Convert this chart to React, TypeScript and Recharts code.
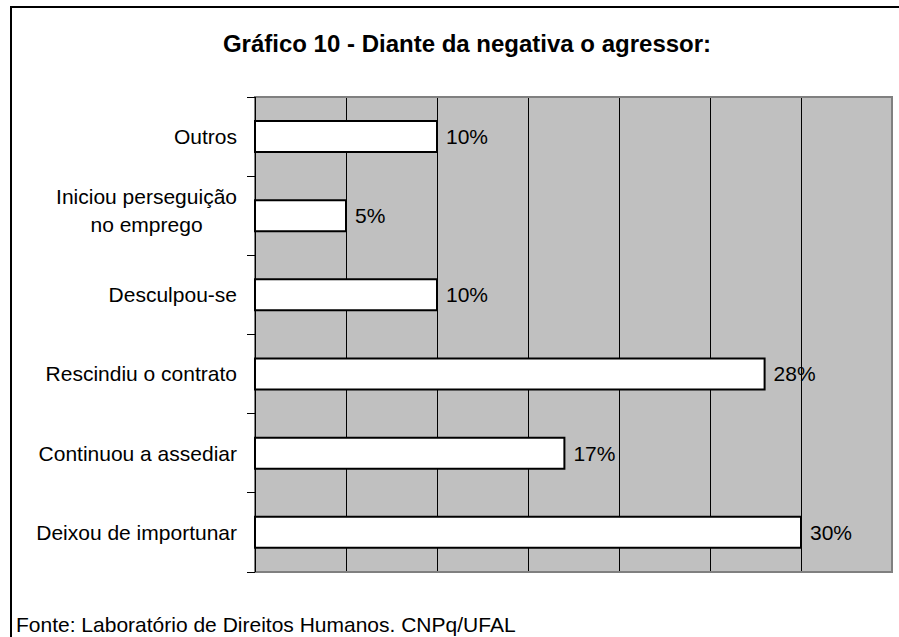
import { Bar, BarChart, CartesianGrid, LabelList, ReferenceArea, XAxis, YAxis } from 'recharts'

const categories = [
  'Outros',
  'Iniciou perseguição no emprego',
  'Desculpou-se',
  'Rescindiu o contrato',
  'Continuou a assediar',
  'Deixou de importunar',
]
const percentages = [10, 5, 10, 28, 17, 30]
const xTicks = [0, 5, 10, 15, 20, 25, 30, 35]

const title = 'Gráfico 10 - Diante da negativa o agressor:'
const source = 'Fonte: Laboratório de Direitos Humanos. CNPq/UFAL'

const data = categories.map((name, i) => ({ name, value: percentages[i] }))

const W = 899
const H = 637
const MARGIN = { top: 97, right: 7, bottom: 65, left: 10 }
const FONT = "'Liberation Sans', Arial, sans-serif"
const FS = 21

let ctx: CanvasRenderingContext2D | null = null
function measure(s: string) {
  if (!ctx) {
    ctx = document.createElement('canvas').getContext('2d')
    if (ctx) ctx.font = `${FS}px ${FONT}`
  }
  return ctx ? ctx.measureText(s).width : s.length * FS * 0.5
}

function wrap(label: string, maxChars = 21) {
  const lines: string[] = []
  let cur = ''
  for (const w of label.split(' ')) {
    const next = cur ? cur + ' ' + w : w
    if (next.length > maxChars && cur) {
      lines.push(cur)
      cur = w
    } else cur = next
  }
  if (cur) lines.push(cur)
  return lines
}

// y-axis labels; ticks sit on the band edges like the original
function CategoryTick(props: any) {
  const { x, y, payload, index } = props
  const half = payload?.offset ?? (H - MARGIN.top - MARGIN.bottom) / categories.length / 2
  const axisX = x + 18
  const lines = wrap(String(payload.value))
  const lh = 28
  const widest = Math.max(...lines.map(measure))
  const cx = x - widest / 2
  const startY = y - ((lines.length - 1) * lh) / 2 - (lines.length > 1 ? 5 : 0)
  return (
    <g>
      <line x1={axisX - 8} x2={axisX} y1={y - half} y2={y - half} stroke="#000" shapeRendering="crispEdges" />
      {index === categories.length - 1 && (
        <line x1={axisX - 8} x2={axisX} y1={y + half} y2={y + half} stroke="#000" shapeRendering="crispEdges" />
      )}
      {lines.map((l, i) => (
        <text
          key={i}
          x={lines.length > 1 ? cx : x}
          y={startY + i * lh}
          dy="0.35em"
          textAnchor={lines.length > 1 ? 'middle' : 'end'}
          fontFamily={FONT}
          fontSize={FS}
          fill="#000"
        >
          {l}
        </text>
      ))}
    </g>
  )
}

export default function App() {
  return (
    <div style={{ position: 'absolute', left: 0, top: 0, width: W, height: H, overflow: 'hidden', background: '#fff' }}>
      <div
        style={{
          position: 'absolute',
          left: 10,
          top: 6,
          width: 1000,
          height: 1000,
          borderLeft: '2px solid #000',
          borderTop: '2px solid #000',
        }}
      />
      <div style={{ position: 'absolute', left: 0, top: 0 }}>
        <BarChart width={W} height={H} data={data} layout="vertical" margin={MARGIN} barSize={31}>
          <CartesianGrid
            horizontal={false}
            stroke="#000"
            fill="#c0c0c0"
            fillOpacity={1}
            shapeRendering="crispEdges"
          />
          <XAxis type="number" domain={[0, 35]} ticks={xTicks} hide />
          <YAxis
            type="category"
            dataKey="name"
            width={245}
            tickLine={false}
            tickSize={8}
            tickMargin={10}
            axisLine={{ stroke: '#000', strokeWidth: 1, shapeRendering: 'crispEdges' }}
            tick={<CategoryTick />}
            interval={0}
          />
          <ReferenceArea x1={0} x2={35} fill="none" stroke="#808080" strokeWidth={2} />
          <Bar dataKey="value" fill="#fff" stroke="#000" strokeWidth={2} isAnimationActive={false}>
            <LabelList
              dataKey="value"
              position="right"
              offset={9}
              formatter={(v: any) => `${v}%`}
              style={{ fontFamily: FONT, fontSize: FS, fill: '#000' }}
            />
          </Bar>
        </BarChart>
      </div>
      <svg width={W} height={H} style={{ position: 'absolute', left: 0, top: 0, pointerEvents: 'none' }}>
        <text x={467} y={52} textAnchor="middle" fontFamily={FONT} fontSize={24} fontWeight="bold" fill="#000">
          {title}
        </text>
        <text x={16} y={632} fontFamily={FONT} fontSize={FS} fill="#000">
          {source}
        </text>
      </svg>
    </div>
  )
}
